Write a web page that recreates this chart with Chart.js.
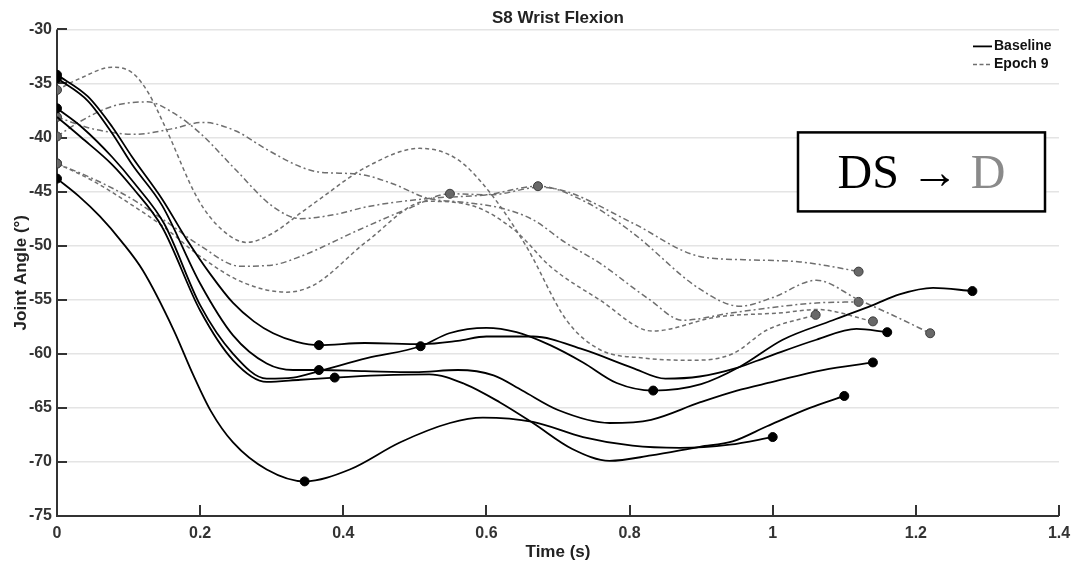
<!DOCTYPE html>
<html>
<head>
<meta charset="utf-8">
<title>S8 Wrist Flexion</title>
<script src="https://cdn.jsdelivr.net/npm/chart.js@4.4.0/dist/chart.umd.min.js"></script>
<style>
    html, body { margin: 0; padding: 0; background: #fff; }
    #wrap { position: relative; width: 1075px; height: 567px; }
</style>
</head>
<body>
<div id="wrap"><canvas id="wristChart"></canvas></div>
<script>
// axis ranges
const timeTicks = [0, 0.2, 0.4, 0.6, 0.8, 1, 1.2, 1.4];
const angleTicks = [-75, -70, -65, -60, -55, -50, -45, -40, -35, -30];

// baseline trials: time (s), joint angle (deg), indices that get a dot
const base1T = [0, 0.043, 0.077, 0.105, 0.147, 0.181, 0.215, 0.246, 0.275, 0.302, 0.335, 0.366, 0.43, 0.51, 0.56, 0.6, 0.665, 0.735, 0.804, 0.85, 0.898, 0.95, 0.992, 1.061, 1.117, 1.16];
const base1A = [-34.2, -36.2, -39.0, -41.8, -45.7, -49.4, -52.7, -55.3, -57.0, -58.1, -58.9, -59.2, -59.0, -59.1, -58.8, -58.4, -58.4, -59.6, -61.3, -62.3, -62.1, -61.3, -60.3, -58.7, -57.7, -58.0];
const base1Dots = [0, 11, 25];

const base2T = [0, 0.043, 0.077, 0.105, 0.147, 0.2, 0.246, 0.293, 0.33, 0.366, 0.43, 0.5, 0.56, 0.61, 0.65, 0.7, 0.772, 0.83, 0.898, 0.95, 1.0, 1.07, 1.14];
const base2A = [-34.5, -36.6, -39.6, -42.5, -46.3, -53.5, -58.3, -60.9, -61.5, -61.5, -61.6, -61.7, -61.5, -62.0, -63.4, -65.2, -66.4, -66.1, -64.5, -63.4, -62.6, -61.5, -60.8];
const base2Dots = [0, 9, 22];

const base3T = [0, 0.034, 0.077, 0.109, 0.15, 0.2, 0.246, 0.293, 0.33, 0.366, 0.433, 0.508, 0.548, 0.6, 0.642, 0.689, 0.735, 0.782, 0.833, 0.9, 0.954, 1.014, 1.084, 1.14, 1.177, 1.224, 1.279];
const base3A = [-37.3, -39.0, -41.8, -44.3, -48.0, -55.5, -60.0, -62.3, -62.2, -61.6, -60.4, -59.3, -58.1, -57.6, -58.0, -59.2, -60.8, -62.7, -63.4, -62.8, -61.2, -58.7, -56.9, -55.5, -54.5, -53.9, -54.2];
const base3Dots = [0, 11, 18, 26];

const base4T = [0, 0.034, 0.077, 0.105, 0.147, 0.2, 0.246, 0.293, 0.34, 0.388, 0.45, 0.52, 0.57, 0.619, 0.665, 0.72, 0.772, 0.83, 0.898, 0.944, 0.992, 1.052, 1.1];
const base4A = [-38.1, -40.0, -42.5, -44.6, -48.3, -56.0, -60.6, -62.6, -62.4, -62.2, -62.0, -61.9, -62.8, -64.5, -66.4, -68.8, -69.9, -69.4, -68.6, -68.1, -66.7, -65.0, -63.9];
const base4Dots = [9, 22];

const base5T = [0, 0.03, 0.06, 0.09, 0.12, 0.163, 0.19, 0.215, 0.246, 0.293, 0.346, 0.409, 0.479, 0.549, 0.595, 0.665, 0.735, 0.804, 0.87, 0.94, 1.0];
const base5A = [-43.8, -45.4, -47.3, -49.6, -52.3, -57.8, -61.9, -65.3, -68.2, -70.7, -71.8, -70.7, -68.2, -66.4, -65.9, -66.3, -67.7, -68.5, -68.7, -68.4, -67.7];
const base5Dots = [0, 10, 20];

// epoch 9 trials
const ep1T = [0, 0.03, 0.077, 0.105, 0.127, 0.151, 0.197, 0.23, 0.265, 0.3, 0.34, 0.367, 0.433, 0.507, 0.559, 0.605, 0.656, 0.712, 0.758, 0.82, 0.888, 0.944, 0.992, 1.06];
const ep1A = [-35.6, -34.6, -33.5, -34.0, -35.8, -39.0, -45.7, -48.5, -49.7, -48.9, -47.0, -45.7, -42.7, -41.0, -42.0, -45.1, -50.1, -56.9, -59.6, -60.4, -60.6, -60.0, -57.8, -56.4];
const ep1Dots = [0, 23];

const ep2T = [0, 0.03, 0.078, 0.126, 0.162, 0.2, 0.25, 0.3, 0.34, 0.39, 0.433, 0.525, 0.6, 0.672, 0.74, 0.804, 0.898, 0.954, 1.0, 1.061, 1.12, 1.17, 1.22];
const ep2A = [-39.9, -38.6, -37.1, -36.7, -37.7, -39.6, -43.0, -46.3, -47.5, -47.1, -46.4, -45.6, -45.3, -44.5, -46.0, -48.8, -54.0, -55.6, -54.8, -53.2, -55.0, -56.5, -58.1];
const ep2Dots = [0, 13, 22];

const ep3T = [0, 0.05, 0.11, 0.16, 0.204, 0.25, 0.293, 0.34, 0.367, 0.423, 0.47, 0.517, 0.57, 0.619, 0.665, 0.71, 0.758, 0.828, 0.874, 0.944, 1.061, 1.12];
const ep3A = [-38.1, -39.2, -39.7, -39.2, -38.6, -39.4, -41.1, -42.7, -43.2, -43.4, -44.3, -45.6, -46.0, -46.5, -47.6, -49.7, -51.6, -55.0, -56.9, -56.2, -55.3, -55.2];
const ep3Dots = [0, 21];

const ep4T = [0, 0.05, 0.1, 0.153, 0.2, 0.256, 0.3, 0.34, 0.423, 0.49, 0.549, 0.605, 0.675, 0.712, 0.804, 0.898, 0.96, 1.038, 1.08, 1.12];
const ep4A = [-42.4, -43.8, -45.5, -47.8, -50.0, -51.9, -51.8, -51.0, -48.5, -46.6, -45.2, -45.3, -44.6, -45.0, -47.9, -51.0, -51.3, -51.5, -51.9, -52.4];
const ep4Dots = [0, 10, 19];

const ep5T = [0, 0.05, 0.106, 0.15, 0.2, 0.26, 0.321, 0.36, 0.433, 0.517, 0.58, 0.64, 0.689, 0.758, 0.832, 0.922, 1.014, 1.061, 1.14];
const ep5A = [-42.4, -44.0, -46.3, -48.3, -51.0, -53.4, -54.3, -53.6, -49.6, -45.9, -46.3, -48.6, -51.9, -55.0, -57.9, -56.6, -56.2, -55.9, -57.0];
const ep5Dots = [0, 18];

const baselineTrials = [
    [base1T, base1A, base1Dots],
    [base2T, base2A, base2Dots],
    [base3T, base3A, base3Dots],
    [base4T, base4A, base4Dots],
    [base5T, base5A, base5Dots],
];
const epochTrials = [
    [ep1T, ep1A, ep1Dots, [4, 3]],
    [ep2T, ep2A, ep2Dots, [6, 3, 2, 3]],
    [ep3T, ep3A, ep3Dots, [6, 3, 2, 3]],
    [ep4T, ep4A, ep4Dots, [6, 3, 2, 3]],
    [ep5T, ep5A, ep5Dots, [4, 3]],
];

const BASE_COLOR = '#000';
const EPOCH_COLOR = '#6f6f6f';

function toPoints(times, angles) {
    return times.map((t, i) => ({ x: t, y: angles[i] }));
}

function trialSet(times, angles, dots, opts) {
    return {
        data: toPoints(times, angles),
        borderColor: opts.color,
        borderWidth: opts.width,
        borderDash: opts.dash || [],
        cubicInterpolationMode: 'monotone',
        pointRadius: (ctx) => (dots.includes(ctx.dataIndex) ? 4.5 : 0),
        pointHoverRadius: 0,
        pointBackgroundColor: opts.dotFill,
        pointBorderColor: opts.dotEdge,
        pointBorderWidth: 1,
        fill: false,
    };
}

const datasets = [
    ...baselineTrials.map(([t, a, d]) => trialSet(t, a, d, {
        color: BASE_COLOR, width: 1.8, dotFill: '#000', dotEdge: '#000',
    })),
    ...epochTrials.map(([t, a, d, dash]) => trialSet(t, a, d, {
        color: EPOCH_COLOR, width: 1.5, dash, dotFill: '#686868', dotEdge: '#3c3c3c',
    })),
];

// axis lines with inward tick marks, drawn under the traces
const axisFrame = {
    id: 'axisFrame',
    beforeDatasetsDraw(chart) {
        const { ctx, chartArea: a, scales: { x, y } } = chart;
        ctx.save();
        ctx.strokeStyle = '#333';
        ctx.lineWidth = 2;
        ctx.beginPath();
        ctx.moveTo(a.left, a.top);
        ctx.lineTo(a.left, a.bottom);
        ctx.lineTo(a.right, a.bottom);
        y.ticks.forEach((tk) => {
            const py = Math.round(y.getPixelForValue(tk.value));
            ctx.moveTo(a.left, py);
            ctx.lineTo(a.left + 10, py);
        });
        x.ticks.forEach((tk) => {
            const px = Math.round(x.getPixelForValue(tk.value));
            ctx.moveTo(px, a.bottom);
            ctx.lineTo(px, a.bottom - 11);
        });
        ctx.stroke();
        ctx.restore();
    },
};

// small legend in the top right corner and the condition box
const overlays = {
    id: 'overlays',
    afterDraw(chart) {
        const { ctx, chartArea: a } = chart;
        ctx.save();

        const lx = a.right - 86;
        const ly = a.top + 17;
        ctx.font = 'bold 14px "Liberation Sans", Arial, sans-serif';
        ctx.textBaseline = 'middle';
        ctx.fillStyle = '#111';

        ctx.strokeStyle = BASE_COLOR;
        ctx.lineWidth = 1.8;
        ctx.beginPath();
        ctx.moveTo(lx, ly);
        ctx.lineTo(lx + 19, ly);
        ctx.stroke();
        ctx.fillText('Baseline', lx + 21, ly);

        ctx.strokeStyle = EPOCH_COLOR;
        ctx.lineWidth = 1.5;
        ctx.setLineDash([4, 2.5]);
        ctx.beginPath();
        ctx.moveTo(lx, ly + 18);
        ctx.lineTo(lx + 19, ly + 18);
        ctx.stroke();
        ctx.setLineDash([]);
        ctx.fillText('Epoch 9', lx + 21, ly + 18);

        // condition label box
        const bx = a.right - 261;
        const by = a.top + 103;
        const bw = 247;
        const bh = 79;
        ctx.fillStyle = '#fff';
        ctx.fillRect(bx, by, bw, bh);
        ctx.strokeStyle = '#000';
        ctx.lineWidth = 2.5;
        ctx.strokeRect(bx, by, bw, bh);

        ctx.font = '48px "Liberation Serif", "Times New Roman", serif';
        ctx.textBaseline = 'alphabetic';
        const left = 'DS \u2192 ';
        const right = 'D';
        const w1 = ctx.measureText(left).width;
        const w2 = ctx.measureText(right).width;
        const tx = bx + (bw - w1 - w2) / 2;
        const ty = by + 56;
        ctx.fillStyle = '#000';
        ctx.fillText(left, tx, ty);
        ctx.fillStyle = '#8a8a8a';
        ctx.fillText(right, tx + w1, ty);

        ctx.restore();
    },
};

const tickFont = { family: '"Liberation Sans", Arial, sans-serif', size: 16, weight: 'bold' };
const titleFont = { family: '"Liberation Sans", Arial, sans-serif', size: 17, weight: 'bold' };

new Chart(document.getElementById('wristChart'), {
    type: 'line',
    data: { datasets },
    options: {
        responsive: true,
        maintainAspectRatio: false,
        animation: false,
        events: [],
        layout: { padding: { top: 0, right: 16, left: 0, bottom: 0 } },
        plugins: {
            legend: { display: false },
            tooltip: { enabled: false },
            title: {
                display: true,
                text: 'S8 Wrist Flexion',
                color: '#222',
                font: titleFont,
                fullSize: false,
                padding: { top: 8, bottom: 1 },
            },
        },
        scales: {
            x: {
                type: 'linear',
                min: timeTicks[0],
                max: timeTicks[timeTicks.length - 1],
                afterFit(scale) { scale.height = 51; },
                afterBuildTicks(scale) { scale.ticks = timeTicks.map((v) => ({ value: v })); },
                ticks: {
                    color: '#333', font: tickFont, padding: 0, maxRotation: 0, autoSkip: false,
                    callback: (v) => String(v),
                },
                grid: { display: false },
                border: { display: false },
                title: { display: true, text: 'Time (s)', color: '#222', font: titleFont, padding: { top: 2, bottom: 4 } },
            },
            y: {
                type: 'linear',
                min: angleTicks[0],
                max: angleTicks[angleTicks.length - 1],
                afterFit(scale) { scale.width = 57; },
                afterBuildTicks(scale) { scale.ticks = angleTicks.map((v) => ({ value: v })); },
                ticks: { color: '#333', font: tickFont, padding: 5, autoSkip: false, callback: (v) => String(v) },
                grid: { color: '#e4e4e4', lineWidth: 1.6, drawTicks: false },
                border: { display: false },
                title: { display: true, text: 'Joint Angle (\u00b0)', color: '#222', font: titleFont, padding: { top: 11, bottom: 0 } },
            },
        },
    },
    plugins: [axisFrame, overlays],
});
</script>
</body>
</html>
